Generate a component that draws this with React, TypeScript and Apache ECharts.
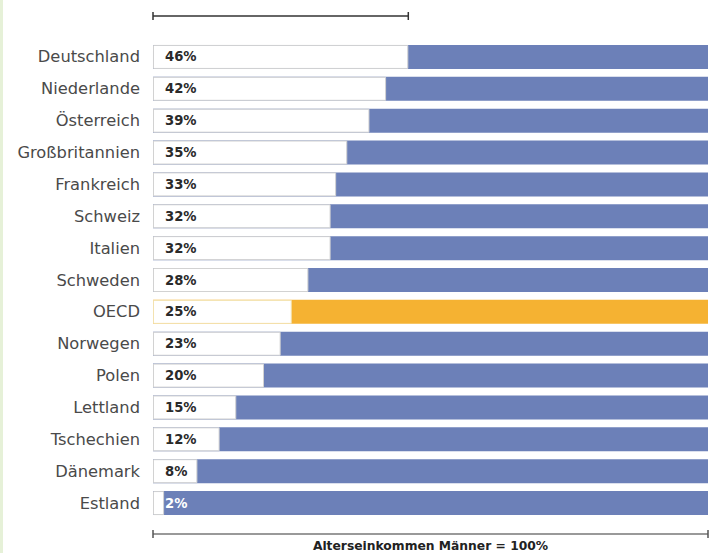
import React, { useEffect, useRef } from "react";
import * as echarts from "echarts";

const countries = [
  "Deutschland",
  "Niederlande",
  "Österreich",
  "Großbritannien",
  "Frankreich",
  "Schweiz",
  "Italien",
  "Schweden",
  "OECD",
  "Norwegen",
  "Polen",
  "Lettland",
  "Tschechien",
  "Dänemark",
  "Estland",
];
const gapValues = [46, 42, 39, 35, 33, 32, 32, 28, 25, 23, 20, 15, 12, 8, 2];
const fullValue = 100;
const highlightName = "OECD";
const whiteLabelName = "Estland";
const axisTitle = "Alterseinkommen Männer = 100%";

const BLUE = "#6c80b8";
const ORANGE = "#f5b232";
const FONT = "DejaVu Sans";

export default function App() {
  const ref = useRef<HTMLDivElement>(null);

  useEffect(() => {
    if (!ref.current) return;
    const chart = echarts.init(ref.current, undefined, { renderer: "svg" });

    const baseData = countries.map((c) =>
      c === highlightName
        ? { value: fullValue, itemStyle: { color: ORANGE } }
        : { value: fullValue }
    );
    const gapData = gapValues.map((v, i) => {
      const c = countries[i];
      const item: any = { value: v };
      if (c === highlightName) {
        item.itemStyle = { color: "#ffffff", borderColor: "#f3e2b0" };
      }
      if (c === whiteLabelName) {
        item.label = { color: "#ffffff" };
      }
      return item;
    });

    const option: any = {
      animation: false,
      backgroundColor: "#ffffff",
      grid: { left: 153, right: 7, top: 41, bottom: 34, containLabel: false },
      xAxis: { type: "value", min: 0, max: fullValue, show: false },
      yAxis: {
        type: "category",
        data: countries,
        inverse: true,
        axisLine: { show: false },
        axisTick: { show: false },
        splitLine: { show: false },
        axisLabel: {
          color: "#4a4a4a",
          fontSize: 16.3,
          fontFamily: FONT,
          margin: 13,
        },
      },
      series: [
        {
          name: "Männer",
          type: "bar",
          data: baseData,
          barWidth: 24,
          silent: true,
          itemStyle: { color: BLUE },
        },
        {
          name: "Lücke",
          type: "bar",
          data: gapData,
          barWidth: 24,
          barGap: "-100%",
          silent: true,
          itemStyle: { color: "#ffffff", borderColor: "#d2d2d2", borderWidth: 1 },
          label: {
            show: true,
            position: "insideLeft",
            distance: 12,
            formatter: "{c}%",
            color: "#2a2a2a",
            fontWeight: "bold",
            fontSize: 13.2,
            fontFamily: FONT,
          },
        },
      ],
    };
    chart.setOption(option);

    const x0 = chart.convertToPixel({ xAxisIndex: 0 }, 0) as number;
    const xTop = chart.convertToPixel({ xAxisIndex: 0 }, gapValues[0]) as number;
    const x100 = chart.convertToPixel({ xAxisIndex: 0 }, fullValue) as number;
    const topY = 16;
    const botY = 534;
    const tick = 4;

    chart.setOption({
      graphic: [
        {
          type: "rect",
          shape: { x: 0, y: 0, width: 3, height: 553 },
          style: { fill: "#e6f1d8" },
          silent: true,
        },
        {
          type: "line",
          shape: { x1: x0, y1: topY, x2: xTop, y2: topY },
          style: { stroke: "#333333", lineWidth: 1.5 },
        },
        {
          type: "line",
          shape: { x1: x0, y1: topY - tick, x2: x0, y2: topY + tick },
          style: { stroke: "#333333", lineWidth: 1.5 },
        },
        {
          type: "line",
          shape: { x1: xTop, y1: topY - tick, x2: xTop, y2: topY + tick },
          style: { stroke: "#333333", lineWidth: 1.5 },
        },
        {
          type: "line",
          shape: { x1: x0, y1: botY, x2: x100, y2: botY },
          style: { stroke: "#777777", lineWidth: 1.5 },
        },
        {
          type: "line",
          shape: { x1: x0, y1: botY - tick, x2: x0, y2: botY + tick },
          style: { stroke: "#555555", lineWidth: 1.5 },
        },
        {
          type: "line",
          shape: { x1: x100, y1: botY - tick, x2: x100, y2: botY + tick },
          style: { stroke: "#555555", lineWidth: 1.5 },
        },
        {
          type: "text",
          x: (x0 + x100) / 2,
          y: 545.5,
          style: {
            text: axisTitle,
            fill: "#222222",
            fontSize: 12.3,
            fontFamily: FONT,
            fontWeight: "bold",
            align: "center",
            verticalAlign: "middle",
          },
        },
      ],
    });

    return () => {
      chart.dispose();
    };
  }, []);

  return (
    <div
      ref={ref}
      style={{ position: "fixed", left: 0, top: 0, width: 715, height: 553 }}
    />
  );
}
